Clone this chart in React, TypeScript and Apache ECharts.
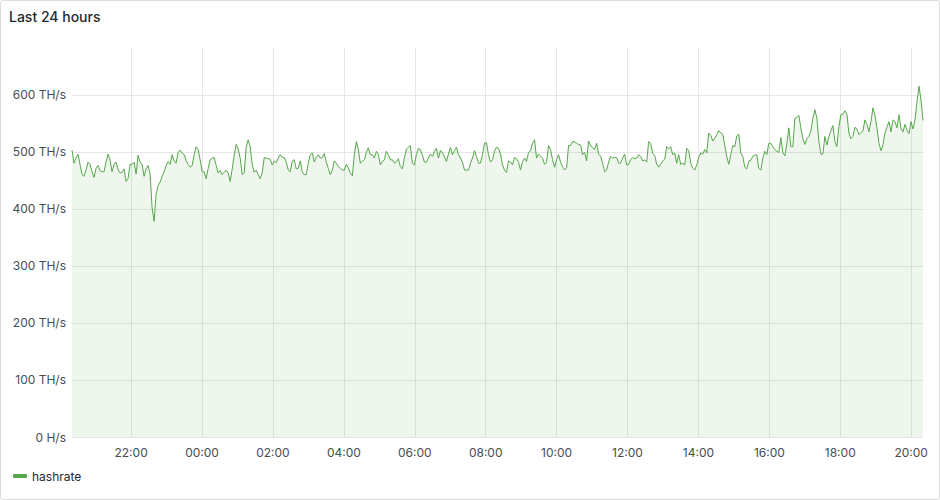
import React, { useEffect, useRef } from "react";
import * as echarts from "echarts";

const title = "Last 24 hours";
const seriesName = "hashrate";
const lineColor = "#56A64B";

// hashrate in TH/s, sampled evenly across the 24h window
const hashrateTH: number[] = [
  503, 480, 489, 496, 478, 460, 457, 468, 482, 478, 465, 455, 471, 476, 467, 465, 465, 482, 496, 486, 465, 478, 482, 469, 463, 464, 470, 448, 453, 478, 478, 482, 461, 494, 482, 478, 457, 470, 476, 461, 402,
  378, 425, 441, 447, 457, 465, 476, 483, 478, 495, 484, 480, 499, 503, 498, 495, 485, 478, 473, 476, 495, 509, 504, 486, 465, 465, 453, 471, 486, 489, 490, 476, 463, 467, 460, 464, 468, 463, 448, 470, 494, 513, 505,
  489, 460, 463, 509, 521, 509, 478, 464, 468, 460, 453, 463, 490, 489, 488, 487, 477, 484, 481, 489, 495, 490, 490, 482, 468, 465, 484, 486, 470, 471, 484, 465, 460, 460, 480, 495, 498, 482, 490, 495, 489, 490, 497,
  482, 471, 460, 468, 484, 480, 474, 471, 468, 468, 478, 472, 463, 458, 495, 518, 504, 480, 483, 486, 499, 507, 495, 495, 489, 501, 495, 477, 483, 486, 501, 495, 486, 486, 480, 482, 488, 474, 470, 489, 505, 508, 511,
  480, 477, 495, 506, 504, 494, 482, 482, 489, 496, 492, 501, 506, 489, 502, 499, 491, 483, 496, 508, 495, 502, 508, 495, 489, 482, 468, 468, 468, 480, 489, 502, 492, 480, 480, 495, 515, 516, 495, 482, 486, 501, 508,
  506, 496, 477, 468, 464, 484, 482, 477, 490, 488, 482, 468, 483, 489, 483, 499, 502, 515, 521, 489, 496, 492, 489, 478, 482, 511, 504, 486, 473, 486, 495, 482, 474, 468, 472, 511, 511, 518, 518, 515, 513, 512, 495,
  499, 484, 519, 511, 507, 504, 515, 496, 492, 480, 465, 468, 482, 492, 489, 490, 490, 480, 480, 489, 496, 477, 478, 486, 490, 488, 489, 495, 492, 484, 486, 482, 518, 515, 497, 494, 478, 473, 478, 484, 487, 509, 505,
  509, 495, 498, 480, 495, 478, 480, 477, 506, 502, 480, 471, 468, 477, 490, 498, 496, 504, 498, 533, 529, 519, 524, 530, 537, 533, 531, 511, 492, 478, 495, 511, 509, 528, 531, 498, 492, 473, 470, 484, 485, 492, 494,
  495, 471, 468, 489, 501, 495, 515, 515, 509, 504, 501, 499, 525, 499, 493, 514, 542, 509, 509, 559, 560, 564, 542, 523, 513, 523, 527, 536, 559, 574, 559, 518, 496, 496, 527, 512, 527, 537, 546, 518, 509, 544, 565,
  566, 572, 566, 533, 523, 527, 543, 540, 530, 534, 536, 556, 548, 535, 553, 577, 564, 542, 515, 502, 512, 533, 543, 553, 535, 556, 553, 542, 565, 541, 535, 548, 538, 532, 553, 540, 556, 588, 615, 591, 555,
];

const yTicks = [0, 100, 200, 300, 400, 500, 600];

const HOUR = 3600 * 1000;
const windowStart = Date.UTC(2024, 0, 1, 20, 20);
const windowEnd = windowStart + 24 * HOUR;

export default function App() {
  const ref = useRef<HTMLDivElement>(null);

  useEffect(() => {
    if (!ref.current) return;
    const chart = echarts.init(ref.current, undefined, { renderer: "svg" });
    const step = (windowEnd - windowStart) / (hashrateTH.length - 1);
    const data = hashrateTH.map((v, i) => [windowStart + i * step, v]);
    const font = "Inter, 'Noto Sans', sans-serif";
    const gridColor = "#e6e6e6";

    chart.setOption({
      animation: false,
      useUTC: true,
      textStyle: { fontFamily: font },
      title: {
        text: title,
        left: 9,
        top: 9,
        padding: 0,
        textStyle: { fontFamily: font, fontSize: 14, fontWeight: 500, color: "#24292e" },
      },
      legend: {
        data: [seriesName],
        left: 13,
        top: 470,
        padding: 0,
        icon: "roundRect",
        itemWidth: 14,
        itemHeight: 4,
        itemGap: 10,
        textStyle: { fontFamily: font, fontSize: 12, color: "#24292e" },
      },
      graphic: [
        {
          type: "rect",
          silent: true,
          shape: { x: 0.5, y: 0.5, width: 939, height: 499, r: 2 },
          style: { fill: "none", stroke: "#dcdcdc", lineWidth: 1 },
        },
      ],
      grid: { left: 72, right: 17, top: 48, bottom: 63 },
      xAxis: {
        type: "time",
        min: windowStart,
        max: windowEnd,
        minInterval: 2.5 * HOUR,
        maxInterval: 2.5 * HOUR,
        axisLine: { show: false },
        axisTick: { show: false },
        splitLine: {
          show: true,
          showMinLine: false,
          showMaxLine: false,
          lineStyle: { color: gridColor, width: 1 },
        },
        axisLabel: {
          formatter: (v: number) => {
            const d = new Date(v);
            const h = d.getUTCHours();
            const m = d.getUTCMinutes();
            if (m !== 0 || h % 2 !== 0) return "";
            return `${String(h).padStart(2, "0")}:00`;
          },
          color: "#464c54",
          fontSize: 12,
          fontFamily: font,
          margin: 9,
          showMinLabel: false,
          showMaxLabel: false,
        },
      },
      yAxis: {
        type: "value",
        min: 0,
        max: 682,
        interval: 100,
        axisLine: { show: false },
        axisTick: { show: false },
        splitLine: {
          show: true,
          showMaxLine: false,
          lineStyle: { color: gridColor, width: 1 },
        },
        axisLabel: {
          showMaxLabel: false,
          color: "#464c54",
          fontSize: 12,
          fontFamily: font,
          margin: 6,
          formatter: (v: number) => (yTicks.includes(v) ? (v === 0 ? "0 H/s" : `${v} TH/s`) : ""),
        },
      },
      series: [
        {
          name: seriesName,
          type: "line",
          data,
          showSymbol: false,
          symbol: "none",
          lineStyle: { width: 1, color: lineColor },
          itemStyle: { color: lineColor },
          areaStyle: { color: "rgba(86,166,75,0.1)", opacity: 1 },
        },
      ],
    });
    return () => chart.dispose();
  }, []);

  return (
    <div
      ref={ref}
      style={{ position: "fixed", left: 0, top: 0, width: 940, height: 500, background: "#fff" }}
    />
  );
}
